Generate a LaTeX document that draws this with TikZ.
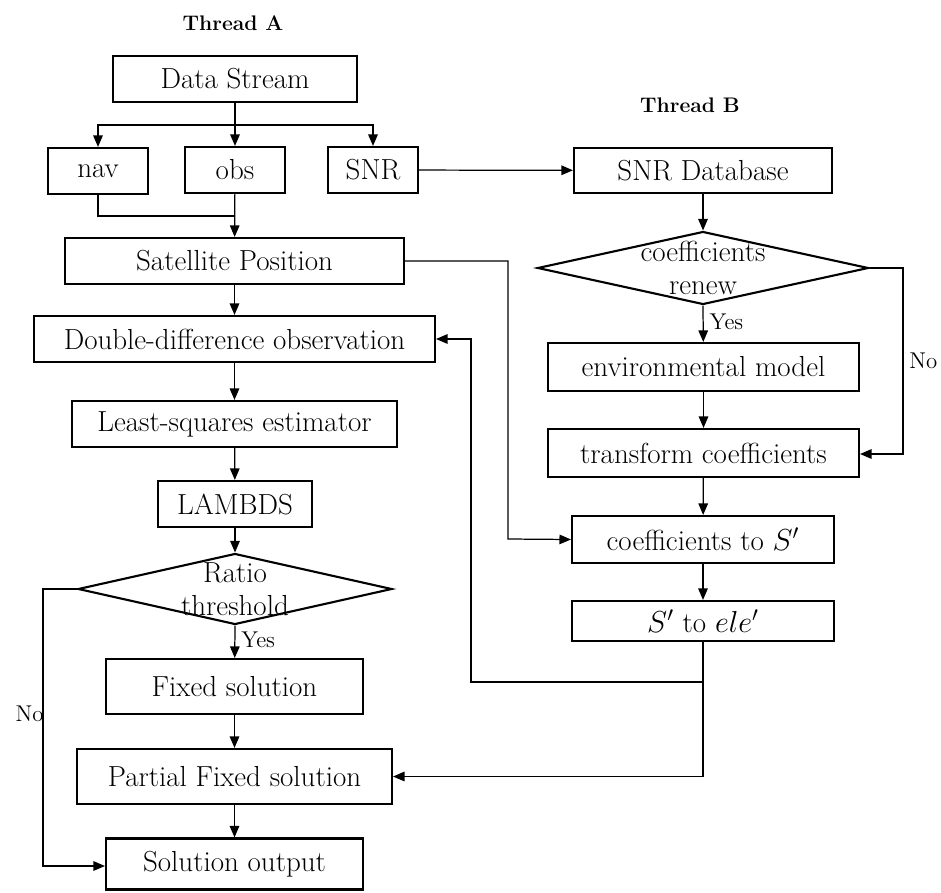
\documentclass[tikz,border=0pt]{standalone}
\usepackage{tikz}
\usetikzlibrary{shapes,arrows.meta,positioning,calc}

\begin{document}
\begin{tikzpicture}[
    x=0.02cm, y=-0.02cm,
    box/.style={rectangle, draw, line width=1.2pt, minimum height=0.92cm, align=center, inner sep=0pt, font=\fontsize{16.5}{19}\selectfont},
    decide/.style={diamond, draw, line width=1.2pt, inner sep=0pt},
    dtext/.style={align=center, font=\fontsize{16.5}{18.5}\selectfont},
    arrow/.style={-{Triangle[length=2.3mm,width=1.9mm]}, line width=0.7pt},
    line/.style={line width=0.7pt},
    thread/.style={font=\fontsize{12}{14}\selectfont\bfseries},
    lbl/.style={font=\fontsize{13}{15}\selectfont}
]
\useasboundingbox (0,0) rectangle (941,893);

% Titles
\node[thread] (titleA) at (233,23) {Thread A};
\node[thread] (titleB) at (690,105) {Thread B};

% Thread A
\node[box, minimum width=4.88cm] (data) at (235,79) {Data Stream};
\node[box, minimum width=2.0cm] (nav) at (98,171) {nav};
\node[box, minimum width=2.0cm] (obs) at (235,170) {obs};
\node[box, minimum width=1.8cm] (snr) at (373,170) {SNR};
\node[box, minimum width=6.78cm] (satpos) at (234.5,261) {Satellite Position};
\node[box, minimum width=8.02cm] (dd) at (234.5,339) {Double-difference observation};
\node[box, minimum width=6.5cm] (lsq) at (234.5,424) {Least-squares estimator};
\node[box, minimum width=3.08cm] (lambds) at (235,504) {LAMBDS};
\node[decide, minimum width=6.28cm, minimum height=1.42cm] (ratio) at (235,589) {};
\node[dtext] (ratiotxt) at (ratio) {Ratio\\threshold};
\node[box, minimum width=5.14cm, minimum height=1.1cm] (fixed) at (234.5,686.5) {Fixed solution};
\node[box, minimum width=6.3cm, minimum height=1.1cm] (partial) at (234.5,776.5) {Partial Fixed solution};
\node[box, minimum width=5.14cm, minimum height=1.02cm] (output) at (234.5,864) {Solution output};

% Thread B
\node[box, minimum width=5.16cm, minimum height=0.9cm] (snrdb) at (703,170.5) {SNR Database};
\node[decide, minimum width=6.62cm, minimum height=1.46cm] (renew) at (703,268) {};
\node[dtext] (renewtxt) at (renew) {coefficients\\renew};
\node[box, minimum width=6.22cm, minimum height=0.96cm] (env) at (703.5,367) {environmental model};
\node[box, minimum width=6.22cm, minimum height=0.96cm] (trans) at (703.5,453) {transform coefficients};
\node[box, minimum width=5.24cm, minimum height=0.94cm] (coefS) at (703,539.5) {coefficients to $S'$};
\node[box, minimum width=5.24cm, minimum height=0.8cm] (sele) at (703,621) {$S'$ to $ele'$};

% Bends
\coordinate (split) at (235,125);
\coordinate (join) at (235,216);
\coordinate (satbend) at (508,539);
\coordinate (nobend) at (903,454);
\coordinate (fork) at (703,682);
\coordinate (ddbend) at (471,682);
\coordinate (outbend) at (43,866);

% Arrows in thread A
\draw[arrow] (data) -- (obs);
\draw[arrow] (split) -| (nav.north);
\draw[arrow] (split) -| (snr.north);
\draw[line] (nav.south) |- (join);
\draw[arrow] (obs) -- (satpos);
\draw[arrow] (satpos) -- (dd);
\draw[arrow] (dd) -- (lsq);
\draw[arrow] (lsq) -- (lambds);
\draw[arrow] (lambds) -- (ratio.north);
\draw[arrow] (ratio.south) -- node[lbl, right, pos=0.45] {Yes} (fixed);
\draw[arrow] (fixed) -- (partial);
\draw[arrow] (partial) -- (output);
\draw[arrow] (ratio.west) -| node[lbl, left, pos=0.725, xshift=4pt] {No} (outbend) -- (output.west |- outbend);

% Arrows in thread B
\draw[arrow] (snr) -- (snrdb);
\draw[arrow] (snrdb) -- (renew.north);
\draw[arrow] (renew.south) -- node[lbl, right, pos=0.45] {Yes} (env);
\draw[arrow] (renew.east) -| node[lbl, right, pos=0.75] {No} (nobend) -- (trans.east |- nobend);
\draw[arrow] (env) -- (trans);
\draw[arrow] (trans) -- (coefS);
\draw[arrow] (coefS) -- (sele);

% Cross links
\draw[arrow] (satpos.east) -| (satbend) -- (coefS.west);
\draw[line] (sele.south) -- (fork);
\draw[arrow] (fork) |- (partial.east);
\draw[arrow] (fork) -- (ddbend) |- (dd.east);

\end{tikzpicture}
\end{document}
